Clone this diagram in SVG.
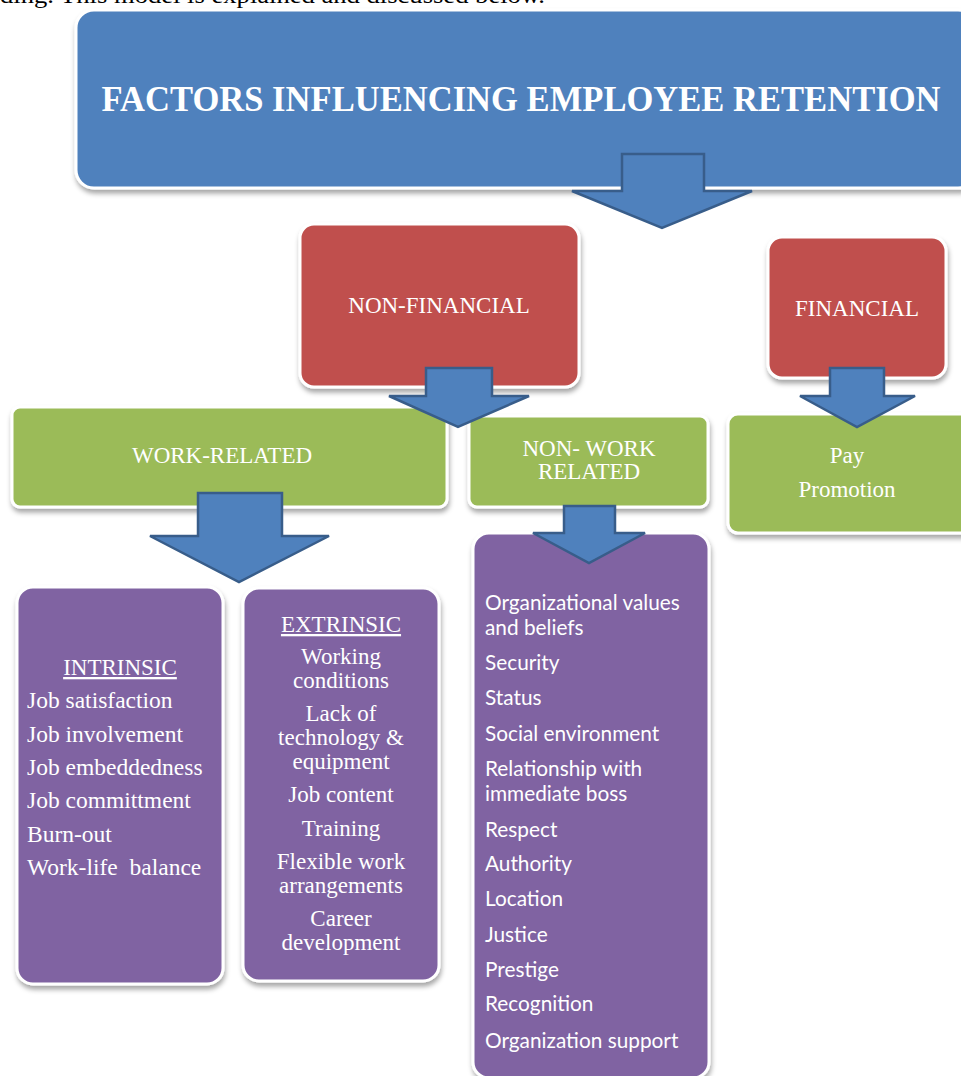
<svg xmlns="http://www.w3.org/2000/svg" width="961" height="1076" viewBox="0 0 961 1076">
<defs>
<filter id="sh" x="-10%" y="-10%" width="120%" height="130%">
<feDropShadow dx="1" dy="4" stdDeviation="2.5" flood-color="#000" flood-opacity="0.35"/>
</filter>
<style>
.box{stroke:#fff;stroke-width:3;filter:url(#sh)}
.blue{fill:#4F81BD}
.red{fill:#C0504D}
.green{fill:#9BBB59}
.purple{fill:#8064A2}
.arrow{fill:#4F81BD;stroke:#385D8A;stroke-width:2.5;stroke-linejoin:miter}
.serif{font-family:"Liberation Serif","Times New Roman",serif;fill:#fff}
.lbl{font-size:23px;text-anchor:middle}
.item{font-size:23.5px}
.sans{font-family:Lato,"Noto Sans","Liberation Sans",sans-serif;fill:#fff;font-size:20.8px}
</style>
</defs>
<rect width="961" height="1076" fill="#fff"/>
<text x="0" y="3" font-family="Liberation Serif, serif" font-size="24" fill="#000" textLength="545" lengthAdjust="spacingAndGlyphs">ding. This model is explained and discussed below.</text>

<g id="title">
<rect class="box blue" x="76" y="10" width="900" height="178" rx="18"/>
<text class="serif" x="521" y="111" font-size="35" font-weight="bold" text-anchor="middle" textLength="839" lengthAdjust="spacingAndGlyphs">FACTORS INFLUENCING EMPLOYEE RETENTION</text>
</g>

<g id="non-financial">
<rect class="box red" x="300" y="224" width="279" height="163" rx="14"/>
<text class="serif lbl" x="439" y="313">NON-FINANCIAL</text>
</g>

<g id="financial">
<rect class="box red" x="768" y="237" width="178" height="141" rx="14"/>
<text class="serif lbl" x="857" y="316">FINANCIAL</text>
</g>

<g id="work-related">
<rect class="box green" x="12" y="407" width="435" height="100" rx="8"/>
<text class="serif lbl" x="222" y="463">WORK-RELATED</text>
</g>

<g id="non-work-related">
<rect class="box green" x="469" y="416" width="239" height="91" rx="8"/>
<text class="serif lbl" x="589" y="456">NON- WORK</text>
<text class="serif lbl" x="589" y="479">RELATED</text>
</g>

<g id="pay">
<rect class="box green" x="728" y="414" width="250" height="119" rx="10"/>
<text class="serif lbl" x="847" y="463">Pay</text>
<text class="serif lbl" x="847" y="497">Promotion</text>
</g>

<g id="intrinsic">
<rect class="box purple" x="17" y="587" width="206" height="397" rx="16"/>
<text class="serif lbl" x="120" y="675" text-decoration="underline">INTRINSIC</text>
<text class="serif item" x="27" y="708">Job satisfaction</text>
<text class="serif item" x="27" y="742">Job involvement</text>
<text class="serif item" x="27" y="775">Job embeddedness</text>
<text class="serif item" x="27" y="808">Job committment</text>
<text class="serif item" x="27" y="842">Burn-out</text>
<text class="serif item" x="27" y="875" xml:space="preserve">Work-life  balance</text>
</g>

<g id="extrinsic">
<rect class="box purple" x="243" y="588" width="196" height="393" rx="16"/>
<text class="serif lbl" x="341" y="632" text-decoration="underline">EXTRINSIC</text>
<text class="serif lbl" x="341" y="664">Working</text>
<text class="serif lbl" x="341" y="688">conditions</text>
<text class="serif lbl" x="341" y="721">Lack of</text>
<text class="serif lbl" x="341" y="745">technology &amp;</text>
<text class="serif lbl" x="341" y="769">equipment</text>
<text class="serif lbl" x="341" y="802">Job content</text>
<text class="serif lbl" x="341" y="836">Training</text>
<text class="serif lbl" x="341" y="869">Flexible work</text>
<text class="serif lbl" x="341" y="893">arrangements</text>
<text class="serif lbl" x="341" y="926">Career</text>
<text class="serif lbl" x="341" y="950">development</text>
</g>

<g id="non-work-list">
<rect class="box purple" x="473" y="533" width="236" height="545" rx="16"/>
<text class="sans" x="485" y="610">Organizational values</text>
<text class="sans" x="485" y="635">and beliefs</text>
<text class="sans" x="485" y="670">Security</text>
<text class="sans" x="485" y="705">Status</text>
<text class="sans" x="485" y="741">Social environment</text>
<text class="sans" x="485" y="776">Relationship with</text>
<text class="sans" x="485" y="801">immediate boss</text>
<text class="sans" x="485" y="837">Respect</text>
<text class="sans" x="485" y="871">Authority</text>
<text class="sans" x="485" y="906">Location</text>
<text class="sans" x="485" y="942">Justice</text>
<text class="sans" x="485" y="977">Prestige</text>
<text class="sans" x="485" y="1011">Recognition</text>
<text class="sans" x="485" y="1048">Organization support</text>
</g>

<g id="connectors">
<polygon class="arrow" points="622,154 704,154 704,191 752,191 662,228 572,191 622,191"/>
<polygon class="arrow" points="426,368 492,368 492,396 529,396 458,427 389,396 426,396"/>
<polygon class="arrow" points="830,368 884,368 884,396 915,396 857,427 800,396 830,396"/>
<polygon class="arrow" points="198,493 282,493 282,536 329,536 239,582 150,536 198,536"/>
<polygon class="arrow" points="564,506 615,506 615,533 645,533 589,563 533,533 564,533"/>
</g>
</svg>
